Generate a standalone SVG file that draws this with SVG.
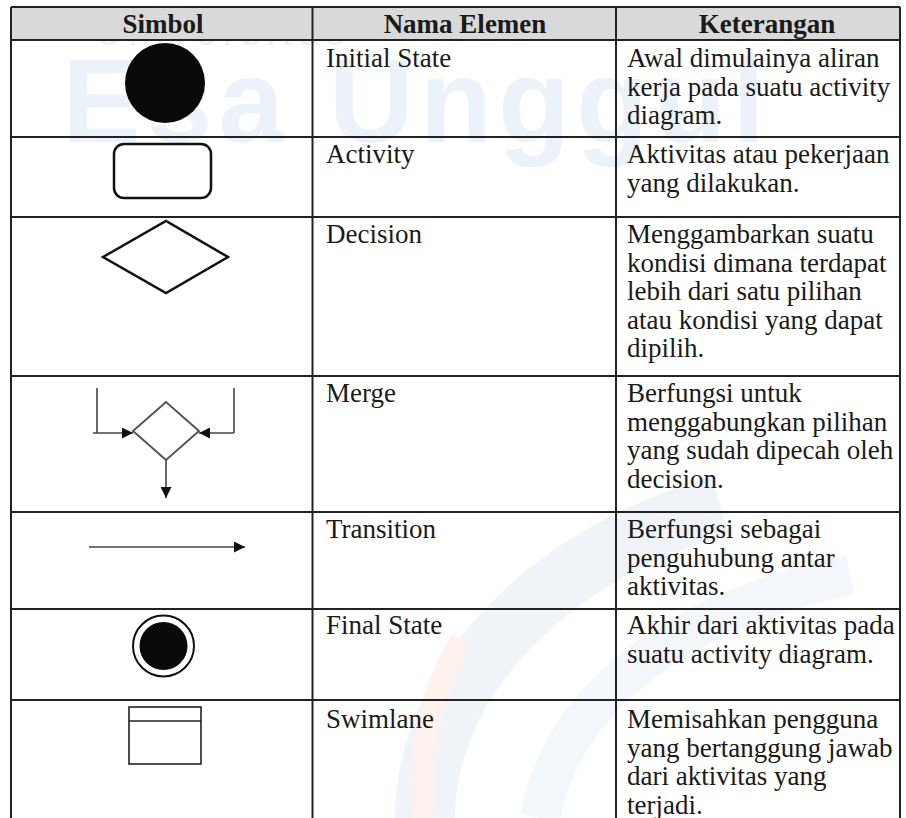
<svg xmlns="http://www.w3.org/2000/svg" width="906" height="818" viewBox="0 0 906 818">
<style>
.t{font-family:"Liberation Serif","Times New Roman",serif;font-size:27px;fill:#1a1a1a}
.h{font-family:"Liberation Serif","Times New Roman",serif;font-size:27px;font-weight:bold;fill:#1a1a1a;text-anchor:middle}
.grid{stroke:#222;stroke-width:2;fill:none}
.wm{font-family:"Liberation Sans",Arial,sans-serif}
.sym{fill:none;stroke:#111;stroke-width:2.5}
.thin{fill:none;stroke:#444;stroke-width:1.6}
</style>
<defs>
<marker id="ah2" viewBox="0 0 10 10" refX="10" refY="5" markerWidth="14" markerHeight="11" orient="auto" markerUnits="userSpaceOnUse">
<path d="M0,0 L10,5 L0,10 Z" fill="#111"/>
</marker>
</defs>
<rect width="906" height="818" fill="#fff"/>
<g id="watermark">
<path d="M425,818 C425,700 520,565 720,505" fill="none" stroke="#f0f4f9" stroke-width="60"/>
<path d="M540,818 C560,710 660,615 850,575" fill="none" stroke="#f3f6fa" stroke-width="40"/>
<path d="M425,818 C418,760 430,690 462,640" fill="none" stroke="#fdf2ec" stroke-width="22"/>
<text class="wm" x="96" y="45" font-size="36" letter-spacing="7" fill="#efefef">Universitas</text>
<text class="wm" x="62" y="142" font-size="118" font-weight="bold" letter-spacing="6" fill="#ecf2f9">Esa Unggul</text>
</g>
<rect x="11" y="7" width="889" height="33" fill="#d9d9d9"/>
<g id="grid">
<line class="grid" x1="11" y1="7" x2="900" y2="7"/>
<line class="grid" x1="11" y1="40" x2="900" y2="40"/>
<line class="grid" x1="11" y1="137" x2="900" y2="137"/>
<line class="grid" x1="11" y1="217" x2="900" y2="217"/>
<line class="grid" x1="11" y1="376" x2="900" y2="376"/>
<line class="grid" x1="11" y1="512" x2="900" y2="512"/>
<line class="grid" x1="11" y1="609" x2="900" y2="609"/>
<line class="grid" x1="11" y1="700" x2="900" y2="700"/>
<line class="grid" x1="11" y1="7" x2="11" y2="818"/>
<line class="grid" x1="312.5" y1="7" x2="312.5" y2="818"/>
<line class="grid" x1="616" y1="7" x2="616" y2="818"/>
<line class="grid" x1="900" y1="7" x2="900" y2="818"/>
</g>
<g id="header">
<text class="h" x="163" y="33">Simbol</text>
<text class="h" x="465" y="33">Nama Elemen</text>
<text class="h" x="767" y="33">Keterangan</text>
</g>
<g id="initial">
<circle cx="165" cy="83" r="40" fill="#0a0a0a"/>
<text class="t" x="326" y="67">Initial State</text>
<text class="t" x="627" y="67">Awal dimulainya aliran<tspan x="627" dy="28.5">kerja pada suatu activity</tspan><tspan x="627" dy="28.5">diagram.</tspan></text>
</g>
<g id="activity">
<rect class="sym" x="114" y="144" width="97" height="54" rx="10"/>
<text class="t" x="326" y="163">Activity</text>
<text class="t" x="627" y="163">Aktivitas atau pekerjaan<tspan x="627" dy="28.5">yang dilakukan.</tspan></text>
</g>
<g id="decision">
<polygon class="sym" points="103,257 166,221 228,257 166,293"/>
<text class="t" x="326" y="243">Decision</text>
<text class="t" x="627" y="243">Menggambarkan suatu<tspan x="627" dy="28.5">kondisi dimana terdapat</tspan><tspan x="627" dy="28.5">lebih dari satu pilihan</tspan><tspan x="627" dy="28.5">atau kondisi yang dapat</tspan><tspan x="627" dy="28.5">dipilih.</tspan></text>
</g>
<g id="merge">
<polygon fill="none" stroke="#555" stroke-width="2" points="133,431 166,402 199,431 166,460"/>
<text class="t" x="326" y="402">Merge</text>
<text class="t" x="627" y="402">Berfungsi untuk<tspan x="627" dy="28.5">menggabungkan pilihan</tspan><tspan x="627" dy="28.5">yang sudah dipecah oleh</tspan><tspan x="627" dy="28.5">decision.</tspan></text>
</g>
<g id="transition">
<text class="t" x="326" y="538">Transition</text>
<text class="t" x="627" y="538">Berfungsi sebagai<tspan x="627" dy="28.5">penguhubung antar</tspan><tspan x="627" dy="28.5">aktivitas.</tspan></text>
</g>
<g id="final">
<circle cx="163.5" cy="646" r="30.5" fill="none" stroke="#111" stroke-width="2"/>
<circle cx="163.5" cy="646" r="24" fill="#0a0a0a"/>
<text class="t" x="326" y="634">Final State</text>
<text class="t" x="627" y="634">Akhir dari aktivitas pada<tspan x="627" dy="28.5">suatu activity diagram.</tspan></text>
</g>
<g id="swimlane">
<rect x="129" y="707" width="72" height="57" fill="none" stroke="#222" stroke-width="1.6"/>
<line x1="129" y1="721" x2="201" y2="721" stroke="#222" stroke-width="1.6"/>
<text class="t" x="326" y="728">Swimlane</text>
<text class="t" x="627" y="728">Memisahkan pengguna<tspan x="627" dy="28.5">yang bertanggung jawab</tspan><tspan x="627" dy="28.5">dari aktivitas yang</tspan><tspan x="627" dy="28.5">terjadi.</tspan></text>
</g>
<g id="connectors">
<polyline class="thin" points="97,388 97,433"/>
<polyline class="thin" points="93,433 133,433" marker-end="url(#ah2)"/>
<polyline class="thin" points="234,388 234,433"/>
<polyline class="thin" points="234,433 199,433" marker-end="url(#ah2)"/>
<polyline class="thin" points="166,460 166,498" marker-end="url(#ah2)"/>
<line class="thin" x1="89" y1="547" x2="245" y2="547" marker-end="url(#ah2)"/>
</g>
</svg>
